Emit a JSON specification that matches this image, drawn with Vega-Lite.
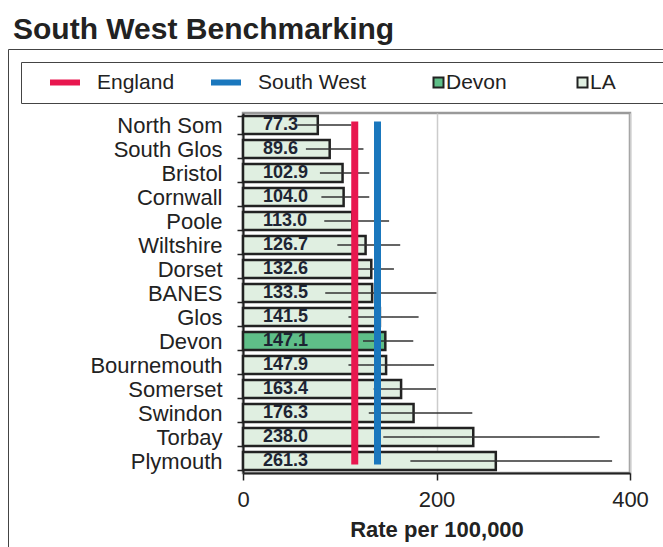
{
  "$schema": "https://vega.github.io/schema/vega-lite/v6.json",
  "width": 387,
  "height": 360,
  "autosize": {"type": "none"},
  "padding": {"left": 243, "top": 113, "right": 33, "bottom": 74},
  "background": "white",
  "config": {
    "font": "Liberation Sans",
    "view": {"stroke": "#9a9a9a", "strokeWidth": 2.5}
  },
  "title": {
    "text": "South West Benchmarking",
    "anchor": "start",
    "frame": "group",
    "fontSize": 30,
    "fontWeight": "bold",
    "color": "#222222",
    "dx": -230
  },
  "resolve": {"scale": {"strokeDash": "independent"}, "legend": {"strokeDash": "independent"}},
  "datasets": {
    "la": [
      {"name": "North Som", "rate": 77.3, "lo": 56, "hi": 112, "series": "LA"},
      {"name": "South Glos", "rate": 89.6, "lo": 65, "hi": 124.5, "series": "LA"},
      {"name": "Bristol", "rate": 102.9, "lo": 79.5, "hi": 130.5, "series": "LA"},
      {"name": "Cornwall", "rate": 104.0, "lo": 81, "hi": 130.5, "series": "LA"},
      {"name": "Poole", "rate": 113.0, "lo": 84, "hi": 151, "series": "LA"},
      {"name": "Wiltshire", "rate": 126.7, "lo": 97.5, "hi": 162.5, "series": "LA"},
      {"name": "Dorset", "rate": 132.6, "lo": 117, "hi": 156, "series": "LA"},
      {"name": "BANES", "rate": 133.5, "lo": 85, "hi": 200, "series": "LA"},
      {"name": "Glos", "rate": 141.5, "lo": 109, "hi": 181.5, "series": "LA"},
      {"name": "Devon", "rate": 147.1, "lo": 124, "hi": 176, "series": "Devon"},
      {"name": "Bournemouth", "rate": 147.9, "lo": 109, "hi": 197.5, "series": "LA"},
      {"name": "Somerset", "rate": 163.4, "lo": 135, "hi": 199.5, "series": "LA"},
      {"name": "Swindon", "rate": 176.3, "lo": 130, "hi": 237, "series": "LA"},
      {"name": "Torbay", "rate": 238.0, "lo": 145, "hi": 368.5, "series": "LA"},
      {"name": "Plymouth", "rate": 261.3, "lo": 173, "hi": 381.5, "series": "LA"}
    ],
    "ref": [
      {"series": "England", "value": 115.5},
      {"series": "South West", "value": 139}
    ]
  },
  "layer": [
    {
      "data": {"name": "la"},
      "mark": {"type": "bar", "stroke": "#222222", "strokeWidth": 2.5},
      "encoding": {
        "y": {
          "field": "name",
          "type": "nominal",
          "sort": null,
          "scale": {
            "domain": ["North Som", "South Glos", "Bristol", "Cornwall", "Poole", "Wiltshire", "Dorset", "BANES", "Glos", "Devon", "Bournemouth", "Somerset", "Swindon", "Torbay", "Plymouth"],
            "paddingInner": 0.26,
            "paddingOuter": 0.13
          },
          "axis": {
            "title": null,
            "labelFontSize": 22,
            "labelColor": "#222222",
            "labelPadding": 15,
            "tickSize": 6,
            "tickColor": "#222222",
            "tickWidth": 1.5,
            "tickBand": "extent",
            "domainColor": "#222222",
            "domainWidth": 2,
            "grid": false
          }
        },
        "x": {
          "field": "rate",
          "type": "quantitative",
          "scale": {"domain": [0, 400], "nice": false},
          "axis": {
            "values": [0, 200, 400],
            "title": "Rate per 100,000",
            "titleFontSize": 22,
            "titleFontWeight": "bold",
            "titleColor": "#222222",
            "titlePadding": 9,
            "labelFontSize": 22,
            "labelColor": "#222222",
            "labelPadding": 9,
            "labelFlush": false,
            "tickSize": 7,
            "tickColor": "#222222",
            "tickWidth": 1.5,
            "domainColor": "#222222",
            "domainWidth": 2,
            "grid": true,
            "gridColor": "#cccccc",
            "gridWidth": 1.5
          }
        },
        "color": {
          "field": "series",
          "type": "nominal",
          "scale": {"domain": ["Devon", "LA"], "range": ["#5fbf88", "#e0efe1"]},
          "legend": {
            "orient": "none",
            "legendX": 185,
            "legendY": -41,
            "direction": "horizontal",
            "columns": 2,
            "gridAlign": "none",
            "columnPadding": 65,
            "title": null,
            "padding": 0,
            "clipHeight": 21,
            "symbolType": "square",
            "symbolSize": 100,
            "symbolStrokeColor": "#222222",
            "symbolStrokeWidth": 2,
            "labelFontSize": 21,
            "labelColor": "#222222",
            "labelOffset": -3
          }
        }
      }
    },
    {
      "data": {"name": "la"},
      "mark": {"type": "rule", "color": "#333333", "strokeWidth": 1.5},
      "encoding": {
        "y": {"field": "name", "type": "nominal", "sort": null},
        "x": {"field": "lo", "type": "quantitative"},
        "x2": {"field": "hi"},
        "strokeDash": {
          "datum": "frame",
          "type": "nominal",
          "scale": {"range": [[1, 0]]},
          "legend": {
            "orient": "none",
            "legendX": -235,
            "legendY": -64,
            "padding": 420,
            "strokeColor": "#444444",
            "title": null,
            "symbolOpacity": 0,
            "labelOpacity": 0,
            "labelExpr": "''"
          }
        }
      }
    },
    {
      "data": {"name": "la"},
      "mark": {"type": "text", "align": "left", "baseline": "middle", "dx": 20, "fontSize": 18, "fontWeight": "bold", "color": "#1d2433"},
      "encoding": {
        "y": {"field": "name", "type": "nominal", "sort": null},
        "x": {"datum": 0},
        "text": {"field": "rate", "type": "quantitative", "format": ".1f"}
      }
    },
    {
      "data": {"name": "ref"},
      "mark": {"type": "rule", "strokeWidth": 7, "strokeCap": "square"},
      "encoding": {
        "x": {"field": "value", "type": "quantitative"},
        "y": {"datum": "North Som", "type": "nominal", "bandPosition": 0.5},
        "y2": {"datum": "Plymouth", "bandPosition": 0.5},
        "stroke": {
          "field": "series",
          "type": "nominal",
          "scale": {"domain": ["England", "South West"], "range": ["#e8174f", "#1a77bd"]},
          "legend": {
            "orient": "none",
            "legendX": -196,
            "legendY": -41,
            "direction": "horizontal",
            "columns": 2,
            "gridAlign": "none",
            "columnPadding": 33,
            "title": null,
            "padding": 0,
            "clipHeight": 21,
            "symbolType": "stroke",
            "symbolSize": 900,
            "symbolStrokeWidth": 6,
            "labelFontSize": 21,
            "labelColor": "#222222",
            "labelOffset": 14
          }
        },
        "strokeDash": {
          "datum": "box",
          "type": "nominal",
          "scale": {"range": [[1, 0]]},
          "legend": {
            "orient": "none",
            "legendX": -222,
            "legendY": -51,
            "padding": 10,
            "clipHeight": 21,
            "strokeColor": "#444444",
            "title": null,
            "symbolType": "stroke",
            "symbolSize": 450000,
            "symbolOpacity": 0,
            "labelOpacity": 0,
            "labelExpr": "''"
          }
        }
      }
    }
  ]
}
